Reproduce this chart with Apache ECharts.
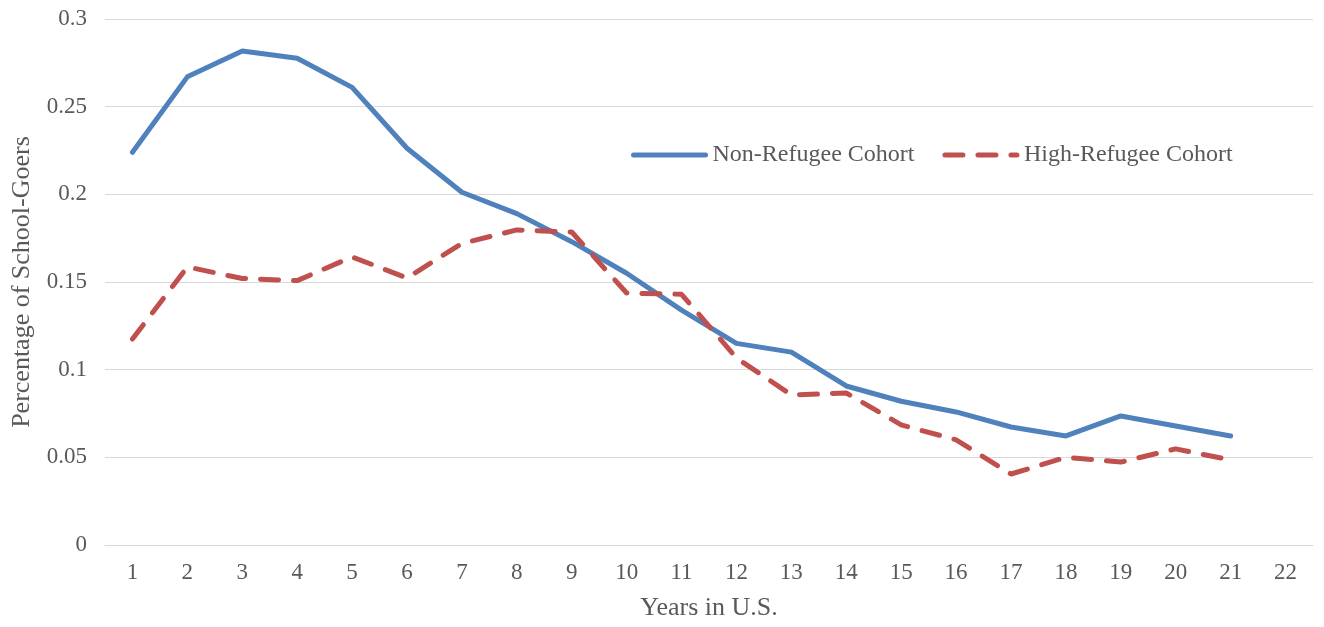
<!DOCTYPE html>
<html>
<head>
<meta charset="utf-8">
<script src="https://cdn.jsdelivr.net/npm/echarts@6/dist/echarts.min.js"></script>
<style>html,body{margin:0;padding:0;background:#fff}#c{width:1324px;height:627px}</style>
</head>
<body>
<div id="c"></div>
<script>
const categories = ['1','2','3','4','5','6','7','8','9','10','11','12','13','14','15','16','17','18','19','20','21','22'];
const nonRefugee = [0.224,0.267,0.2818,0.2776,0.261,0.2263,0.2012,0.189,0.173,0.155,0.134,0.115,0.110,0.0907,0.082,0.0759,0.0673,0.0622,0.0736,0.0679,0.0622,null];
const highRefugee = [0.1175,0.1586,0.152,0.1508,0.1643,0.1523,0.172,0.1797,0.1785,0.1437,0.143,0.1067,0.0856,0.0867,0.0685,0.060,0.0405,0.050,0.0473,0.0548,0.0485,null];
const yTicks = [0,0.05,0.1,0.15,0.2,0.25,0.3];

const font = 'Liberation Serif, Times New Roman, serif';
const chart = echarts.init(document.getElementById('c'));
chart.setOption({
  animation: false,
  textStyle: {fontFamily: font},
  grid: {left: 105, right: 11, top: 19, bottom: 82, containLabel: false},
  legend: {
    left: 626, top: 138, itemWidth: 72, itemHeight: 14, itemGap: 28,
    itemStyle: {color: 'rgba(0,0,0,0)', borderWidth: 0, opacity: 0},
    lineStyle: {width: 5, cap: 'round'},
    textStyle: {fontFamily: font, fontSize: 24, color: '#595959', padding: [0,0,0,2]},
    data: ['Non-Refugee Cohort','High-Refugee Cohort']
  },
  xAxis: {
    type: 'category', data: categories, boundaryGap: true,
    axisLine: {lineStyle: {color: '#d9d9d9', width: 1}},
    axisTick: {show: false},
    axisLabel: {fontFamily: font, fontSize: 23, color: '#595959', margin: 16},
    name: 'Years in U.S.', nameLocation: 'middle', nameGap: 50,
    nameTextStyle: {fontFamily: font, fontSize: 26, color: '#595959'}
  },
  yAxis: {
    type: 'value', min: 0, max: 0.3, interval: 0.05,
    axisLine: {show: false}, axisTick: {show: false},
    splitLine: {lineStyle: {color: '#d9d9d9', width: 1}},
    axisLabel: {fontFamily: font, fontSize: 23, color: '#595959', margin: 18,
      formatter: v => { const t = yTicks.find(x => Math.abs(x - v) < 1e-9); return String(t !== undefined ? t : v); }},
    name: 'Percentage of School-Goers', nameLocation: 'middle', nameGap: 70,
    nameTextStyle: {fontFamily: font, fontSize: 26, color: '#595959'}
  },
  series: [
    {name: 'Non-Refugee Cohort', type: 'line', data: nonRefugee, symbol: 'none',
     itemStyle: {color: '#4f81bd'},
     lineStyle: {color: '#4f81bd', width: 5, cap: 'round', join: 'round'}},
    {name: 'High-Refugee Cohort', type: 'line', data: highRefugee, symbol: 'none',
     itemStyle: {color: '#c0504d'},
     lineStyle: {color: '#c0504d', width: 5, type: [18, 15], cap: 'round', join: 'round'}}
  ]
});
</script>
</body>
</html>
